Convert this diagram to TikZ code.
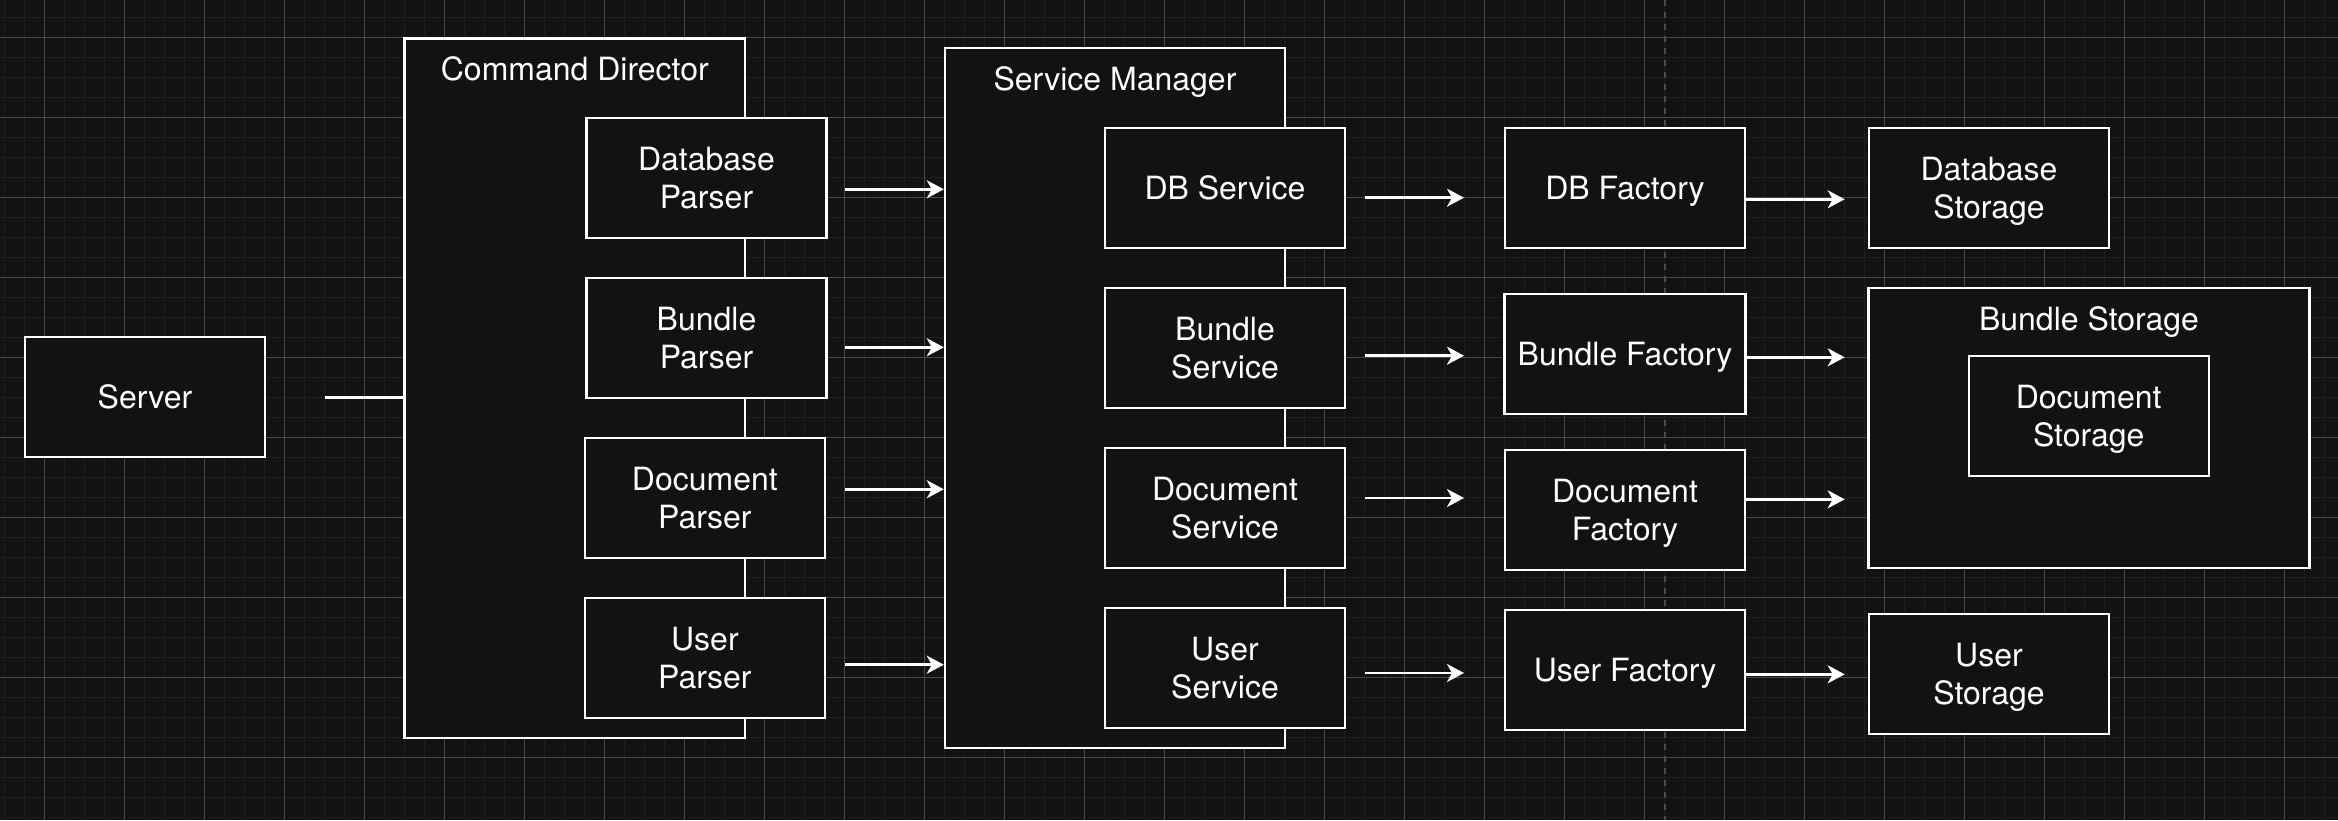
\documentclass[tikz,border=0pt]{standalone}
\usepackage{fontspec}
\setmainfont{TeX Gyre Heros}
\usetikzlibrary{arrows.meta}
\definecolor{bgc}{HTML}{121212}
\definecolor{minorc}{HTML}{1F1F1F}
\definecolor{majorc}{HTML}{474747}
\definecolor{dashc}{HTML}{4A4A4A}
\begin{document}
\begin{tikzpicture}[x=1pt,y=-1pt,
  box/.style={draw=white, fill=bgc, line width=2.4pt, text=white, align=center,
    inner sep=0pt, minimum width=240pt, minimum height=120pt, text depth=0pt,
    font=\fontsize{32}{38.4}\selectfont},
  container/.style={draw=white, fill=bgc, line width=2.4pt, inner sep=0pt},
  ttl/.style={text=white, inner sep=0pt, anchor=base, font=\fontsize{32}{38.4}\selectfont},
  conn/.style={draw=white, line width=2.6pt},
  arr/.style={conn, -{Stealth[length=17pt,width=18pt,inset=5pt]}},
  minorline/.style={draw=minorc, line width=1.3pt},
  majorline/.style={draw=majorc, line width=1pt}
]
\fill[bgc] (0,0) rectangle (2338,820);
\useasboundingbox (0,0) rectangle (2338,820);
% background grid
\foreach \i in {0,...,116} \draw[minorline] ({4.3+20*\i},0) -- ({4.3+20*\i},820);
\foreach \j in {-1,...,40} \draw[minorline] (0,{17.3+20*\j}) -- (2338,{17.3+20*\j});
\foreach \i in {0,...,28} \draw[majorline] ({44.3+80*\i},0) -- ({44.3+80*\i},820);
\foreach \j in {0,...,9} \draw[majorline] (0,{37.3+80*\j}) -- (2338,{37.3+80*\j});
\draw[dashc, line width=2pt, dash pattern=on 6pt off 6pt] (1665,0) -- (1665,820);

% server
\node[box] (server) at (145,397) {Server};

% command director
\node[container, minimum width=340.4pt, minimum height=699.7pt] (cd) at (574.8,388.2) {};
\node[ttl] (cdt) at (574.8,80.5) {Command Director};
\node[box] (dbp) at (706.5,177.9) {Database\\Parser};
\node[box] (bp)  at (706.5,337.7) {Bundle\\Parser};
\node[box] (dp)  at (704.9,497.9) {Document\\Parser};
\node[box] (up)  at (704.9,657.9) {User\\Parser};

% service manager
\node[container, minimum width=340pt, minimum height=700pt] (sm) at (1115,398) {};
\node[ttl] (smt) at (1115,90.5) {Service Manager};
\node[box] (dbs) at (1225,188) {DB Service};
\node[box] (bs)  at (1225,347.9) {Bundle\\Service};
\node[box] (ds)  at (1225,508) {Document\\Service};
\node[box] (us)  at (1225,667.9) {User\\Service};

% factories
\node[box] (dbf) at (1625,188) {DB Factory};
\node[box, minimum width=241.2pt] (bf) at (1625,353.9) {Bundle Factory};
\node[box] (df)  at (1625,510) {Document\\Factory};
\node[box] (uf)  at (1625,670) {User Factory};

% storages
\node[box] (dbst) at (1989,188) {Database\\Storage};
\node[container, minimum width=441pt, minimum height=280pt] (bst) at (2089,428) {};
\node[ttl] (bstt) at (2089,330) {Bundle Storage};
\node[box] (dst) at (2088.7,416) {Document\\Storage};
\node[box] (ust) at (1989,673.9) {User\\Storage};

% server connector
\coordinate (srvout) at (325,397.7);
\draw[conn] (srvout) -- (srvout -| cd.west);

% parser -> service manager
\coordinate (pa1) at (845,189.3);
\coordinate (pa2) at (845,347.3);
\coordinate (pa3) at (845,489.3);
\coordinate (pa4) at (845,664.7);
\foreach \c in {pa1,pa2,pa3,pa4} \draw[arr] (\c) -- (\c -| sm.west);

% service -> factory
\coordinate (sa1) at (1365,197.7); \coordinate (se1) at (1464,197.7);
\coordinate (sa2) at (1365,355.7); \coordinate (se2) at (1464,355.7);
\coordinate (sa3) at (1365,498);   \coordinate (se3) at (1464,498);
\coordinate (sa4) at (1365,673);   \coordinate (se4) at (1464,673);
\foreach \i in {1,2,3,4} \draw[arr] (sa\i) -- (se\i);

% factory -> storage
\coordinate (fe1) at (1844.7,199.3);
\coordinate (fe2) at (1844.7,357.3);
\coordinate (fe3) at (1844.7,499.3);
\coordinate (fe4) at (1844.7,674.3);
\draw[arr] (fe1 -| dbf.east) -- (fe1);
\draw[arr] (fe2 -| bf.east) -- (fe2);
\draw[arr] (fe3 -| df.east) -- (fe3);
\draw[arr] (fe4 -| uf.east) -- (fe4);
\end{tikzpicture}
\end{document}
